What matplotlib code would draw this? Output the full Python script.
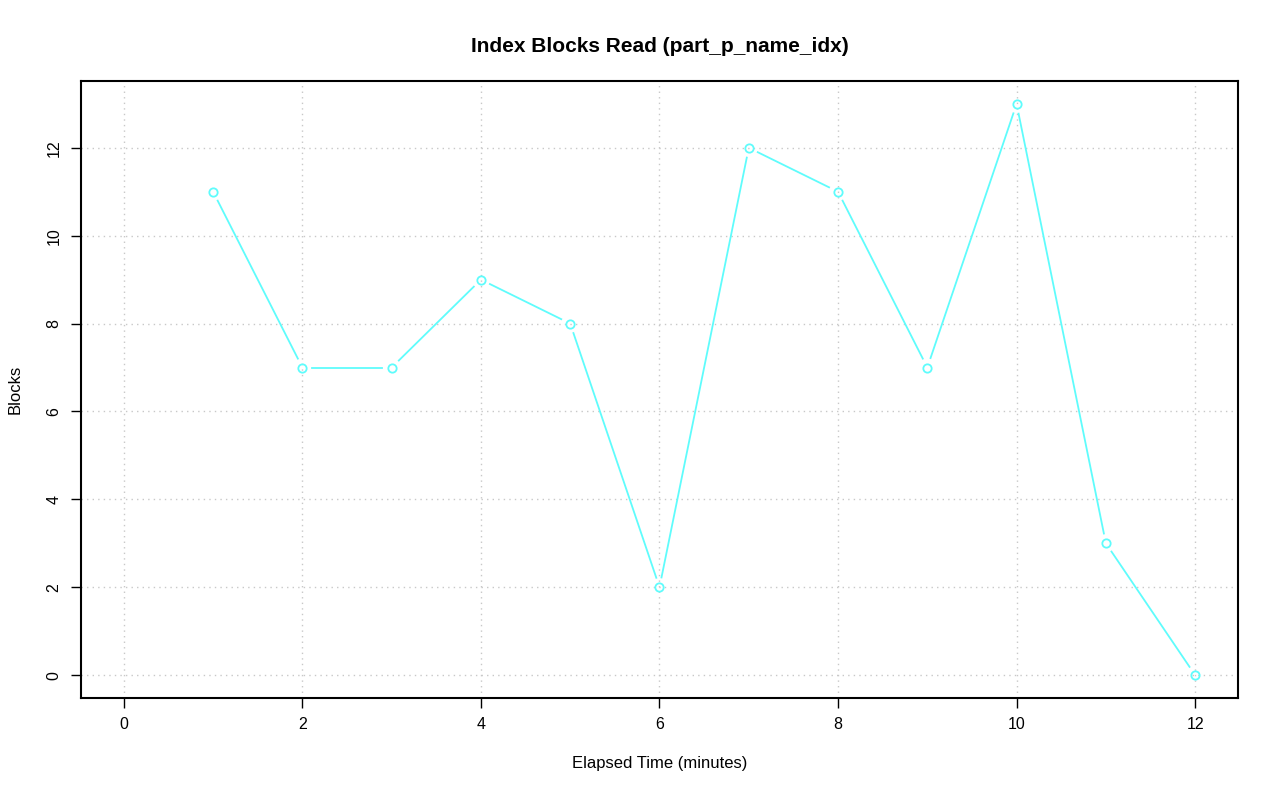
import numpy as np
import matplotlib
matplotlib.use("Agg")
from matplotlib import pyplot as plt

minutes = [1, 2, 3, 4, 5, 6, 7, 8, 9, 10, 11, 12]
blocks = [11, 7, 7, 9, 8, 2, 12, 11, 7, 13, 3, 0]

plt.rcParams['font.family'] = ['Liberation Sans', 'DejaVu Sans']

fig = plt.figure(figsize=(12.8, 8.01), dpi=100)
ax = fig.add_axes([81/1280, 1-698/801, (1238-81)/1280, (698-81)/801])
ax.set_xlim(-0.48, 12.48)
ax.set_ylim(-0.52, 13.52)

ticks = np.arange(0, 13, 2)
ax.set_xticks(ticks)
ax.set_yticks(ticks)
ax.set_yticklabels([str(t) for t in ticks], rotation=90, va='center')
ax.tick_params(length=7, width=1, labelsize=11.5, pad=7)
for s in ax.spines.values():
    s.set_linewidth(1.5)

for t in ticks:
    ax.axvline(t, color='#c8c8c8', lw=1, ls=(0, (1, 3)), zorder=1)
    ax.axhline(t, color='#c8c8c8', lw=1, ls=(0, (1, 3)), zorder=1)

col = '#5ffcfc'
# type="b": segments with a gap around each point
pts = ax.transData.transform(np.column_stack([minutes, blocks]))
gap = 10
inv = ax.transData.inverted()
for i in range(len(pts) - 1):
    p0, p1 = pts[i], pts[i + 1]
    d = p1 - p0
    L = np.hypot(*d)
    if L <= 2 * gap:
        continue
    u = d / L
    a = inv.transform(p0 + u * gap)
    b = inv.transform(p1 - u * gap)
    ax.plot([a[0], b[0]], [a[1], b[1]], color=col, lw=1.3, zorder=2)
ax.plot(minutes, blocks, ls='none', marker='o', ms=6, mfc='none',
        mec=col, mew=1.3, zorder=3)

ax.set_xlabel('Elapsed Time (minutes)', fontsize=12, labelpad=17)
ax.set_ylabel('Blocks', fontsize=12, labelpad=17)
ax.set_title('Index Blocks Read (part_p_name_idx)', fontsize=15,
             fontweight='bold', pad=21)

fig.savefig('out.png', dpi=100)
